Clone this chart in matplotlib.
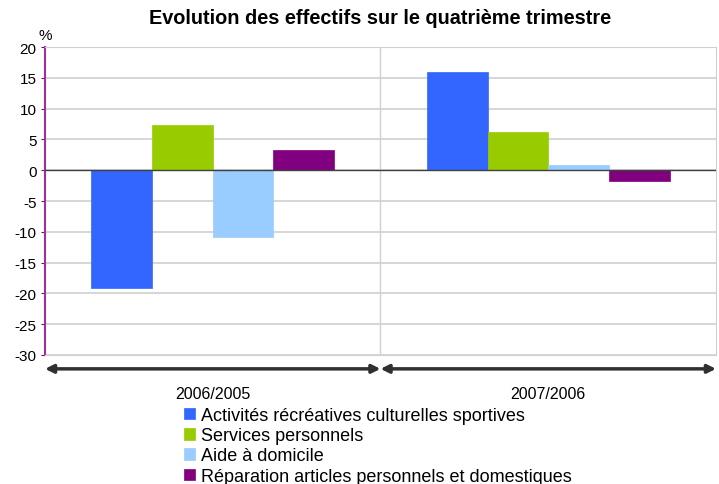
import matplotlib
matplotlib.use("Agg")
import matplotlib.pyplot as plt
import numpy as np

plt.rcParams['font.family'] = ['Liberation Sans', 'DejaVu Sans']

categories = ["2006/2005", "2007/2006"]
series_names = ["Activités récréatives culturelles sportives",
                "Services personnels",
                "Aide à domicile",
                "Réparation articles personnels et domestiques"]
activites = [-19.2, 16.0]
services = [7.3, 6.2]
aide = [-10.9, 0.9]
reparation = [3.3, -1.7]
yticks = [20, 15, 10, 5, 0, -5, -10, -15, -20, -25, -30]

colors = ["#3366FF", "#99CC00", "#99CCFF", "#800080"]
series = [activites, services, aide, reparation]

fig = plt.figure(figsize=(7.19, 4.85), dpi=100)
ax = fig.add_axes([0.0626, 0.266, 0.9332, 0.635])

x = np.arange(len(categories))
n = len(series)
w = 0.181
for i, (vals, c, name) in enumerate(zip(series, colors, series_names)):
    ax.bar(x + (i - (n - 1) / 2) * w, vals, width=w, color=c, label=name,
           edgecolor=c, linewidth=0.5, zorder=3)

ax.set_xlim(-0.5, 1.5)
ax.set_ylim(-30, 20)
ax.set_yticks(yticks)
ax.set_yticklabels([str(t) for t in yticks], fontsize=11)
ax.tick_params(axis='y', length=3, color='#800080', pad=3)
ax.yaxis.grid(True, color='#d0d0d0', linewidth=1.2, zorder=0)
ax.axvline(0.5, color='#d0d0d0', linewidth=1, zorder=0)
ax.axhline(0, color='#404040', linewidth=1, zorder=4)

ax.set_xticks(x)
ax.set_xticklabels(categories, fontsize=11.5)
ax.tick_params(axis='x', length=0, pad=22)

for s in ['top', 'right', 'bottom']:
    ax.spines[s].set_color('#d0d0d0')
ax.spines['left'].set_color('#993399')
ax.spines['left'].set_linewidth(1.5)

# double-headed arrows under each category
for lo, hi in [(-0.5, 0.5), (0.5, 1.5)]:
    ax.annotate("", xy=(lo, -0.045), xytext=(hi, -0.045),
                xycoords=('data', 'axes fraction'),
                textcoords=('data', 'axes fraction'),
                arrowprops=dict(arrowstyle='<|-|>', color='#303030', lw=2.5,
                                mutation_scale=12, shrinkA=0, shrinkB=0),
                annotation_clip=False)

ax.text(-0.01, 1.015, "%", transform=ax.transAxes, fontsize=11, ha='left', va='bottom')
fig.text(0.529, 0.962, "Evolution des effectifs sur le quatrième trimestre",
         ha='center', va='center', fontsize=14.3, fontweight='bold')

fig.legend(loc='upper left', bbox_to_anchor=(0.256, 0.159), frameon=False,
           fontsize=13, handlelength=0.6, handleheight=0.6, handletextpad=0.35,
           labelspacing=0.18, borderpad=0, borderaxespad=0)

fig.savefig("out.png", dpi=100)
